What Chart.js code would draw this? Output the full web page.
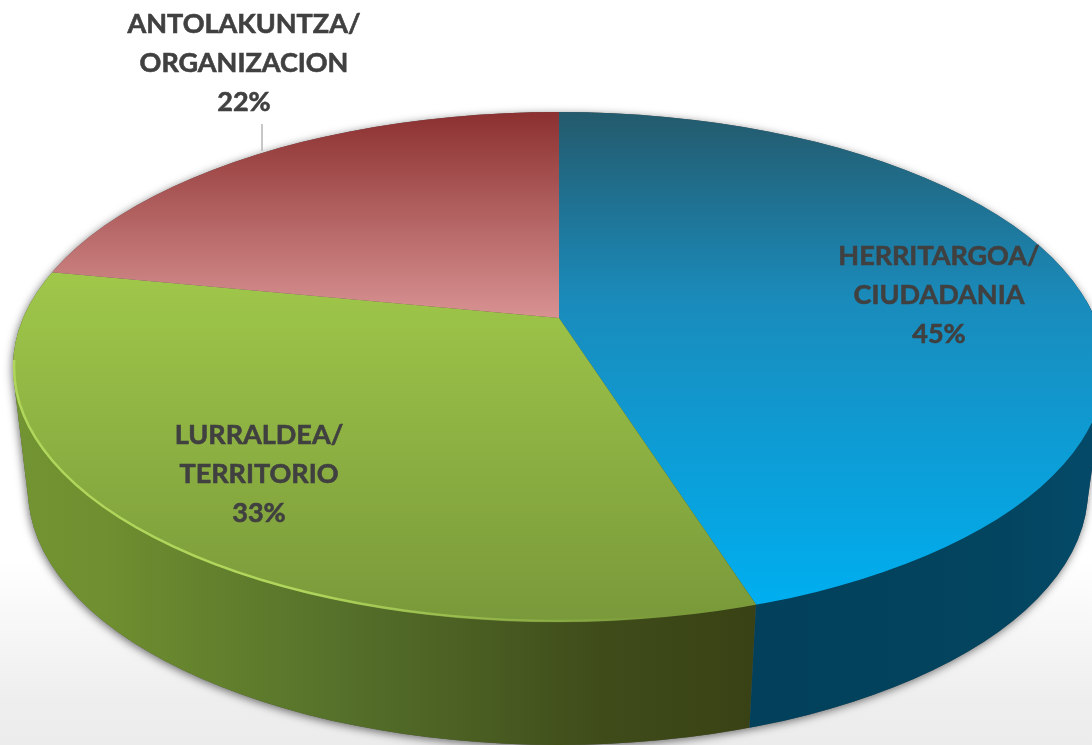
<!DOCTYPE html>
<html>
<head>
<meta charset="utf-8">
<title>Pie</title>
<script src="https://cdn.jsdelivr.net/npm/chart.js@4/dist/chart.umd.js"></script>
<style>
    html, body { margin: 0; padding: 0; width: 1092px; height: 745px; overflow: hidden; }
    body { background: linear-gradient(to bottom, #ffffff 0, #ffffff 560px, #eeeeee 700px, #ececec 745px); }
    canvas { display: block; }
</style>
</head>
<body>
<canvas id="grafico" width="1092" height="745"></canvas>
<script>
// ==================== DATA ====================
const categorias = [['HERRITARGOA/', 'CIUDADANIA'], ['LURRALDEA/', 'TERRITORIO'], ['ANTOLAKUNTZA/', 'ORGANIZACION']];
const valores = [45, 33, 22];

// ==================== LOOK OF THE 3D DISC ====================
const apice = { x: 559, y: 318 };      // where the slices meet on screen
const tapa = { x: 559, y: 367, rx: 546, ry: 255 };   // top face
const fondo = { x: 558, y: 490, rx: 530, ry: 255 };  // bottom rim of the wall
const escalaX = 2, escalaY = 0.945;    // squashes the library's round pie
const etiquetas = [{ x: 939, y: 265 }, { x: 259, y: 444 }, { x: 244, y: 33 }];
const paradas = [
    [[112, '#245a6c'], [300, '#1a8bbb'], [600, '#00aeef']],
    [[270, '#a0c84a'], [622, '#79993a']],
    [[112, '#8c3030'], [320, '#d99393']]
];

function gradienteTapa(chart, i) {
    // the chart area is not known on the first resolve, the pie sits mid height anyway
    const cy = chart.height / 2;
    // gradient lives in chart space, so screen rows are converted back
    const aChart = y => cy + (y - apice.y) / escalaY;
    const lista = paradas[i];
    const y0 = lista[0][0], y1 = lista[lista.length - 1][0];
    const g = chart.ctx.createLinearGradient(0, aChart(y0), 0, aChart(y1));
    lista.forEach(p => g.addColorStop((p[0] - y0) / (y1 - y0), p[1]));
    return g;
}

function caminoPared(ctx) {
    ctx.beginPath();
    const pasos = 60;
    for (let i = 0; i <= pasos; i++) {
        const t = i / pasos;
        const cx = tapa.x + (fondo.x - tapa.x) * t;
        const cy = tapa.y + (fondo.y - tapa.y) * t;
        const rx = tapa.rx + (fondo.rx - tapa.rx) * t;
        ctx.moveTo(cx + rx, cy);
        ctx.ellipse(cx, cy, rx, tapa.ry, 0, 0, Math.PI * 2);
    }
}

// point where the first slice's end edge meets the rim
function puntoCorte(angulo) {
    const dx = Math.cos(angulo) * escalaX, dy = Math.sin(angulo) * escalaY;
    const ox = (apice.x - tapa.x) / tapa.rx, oy = (apice.y - tapa.y) / tapa.ry;
    const ux = dx / tapa.rx, uy = dy / tapa.ry;
    const A = ux * ux + uy * uy, B = 2 * (ox * ux + oy * uy), C = ox * ox + oy * oy - 1;
    const s = (-B + Math.sqrt(B * B - 4 * A * C)) / (2 * A);
    return { x: apice.x + dx * s, y: apice.y + dy * s };
}

function dibujarPared(ctx, corte) {
    const factor = fondo.rx / tapa.rx;
    const abajo = { x: fondo.x + (corte.x - tapa.x) * factor, y: corte.y + (fondo.y - tapa.y) };

    // soft shadow under the disc
    ctx.save();
    ctx.shadowColor = 'rgba(0,0,0,0.55)';
    ctx.shadowBlur = 9;
    ctx.shadowOffsetY = 2;
    ctx.shadowOffsetX = -1;
    ctx.fillStyle = '#555';
    caminoPared(ctx);
    ctx.fill('nonzero');
    ctx.restore();

    // green wall
    const verde = ctx.createLinearGradient(15, 0, abajo.x, 0);
    verde.addColorStop(0, '#739432');
    verde.addColorStop(0.12, '#6f8f30');
    verde.addColorStop(0.45, '#55702a');
    verde.addColorStop(0.8, '#3f4c1a');
    verde.addColorStop(1, '#394214');
    ctx.save();
    ctx.beginPath();
    ctx.moveTo(corte.x, corte.y - 5);
    ctx.lineTo(abajo.x, abajo.y);
    ctx.lineTo(abajo.x, 745);
    ctx.lineTo(0, 745);
    ctx.lineTo(0, 300);
    ctx.lineTo(corte.x, 300);
    ctx.closePath();
    ctx.clip();
    ctx.fillStyle = verde;
    caminoPared(ctx);
    ctx.fill('nonzero');
    ctx.restore();

    // blue wall
    const azul = ctx.createLinearGradient(abajo.x, 0, 1092, 0);
    azul.addColorStop(0, '#02405b');
    azul.addColorStop(0.7, '#03445f');
    azul.addColorStop(1, '#044a68');
    ctx.save();
    ctx.beginPath();
    ctx.moveTo(corte.x, corte.y - 5);
    ctx.lineTo(abajo.x, abajo.y);
    ctx.lineTo(abajo.x, 745);
    ctx.lineTo(1092, 745);
    ctx.lineTo(1092, 300);
    ctx.lineTo(corte.x, 300);
    ctx.closePath();
    ctx.clip();
    ctx.fillStyle = azul;
    caminoPared(ctx);
    ctx.fill('nonzero');
    ctx.restore();
}

const disco3d = {
    id: 'disco3d',
    beforeDatasetsDraw(chart) {
        const ctx = chart.ctx;
        const arco = chart.getDatasetMeta(0).data[0];
        const corte = puntoCorte(arco.endAngle);
        chart.$corte = corte;
        dibujarPared(ctx, corte);

        // the library's arcs get squashed and clipped to the top face
        ctx.save();
        ctx.beginPath();
        ctx.ellipse(tapa.x, tapa.y, tapa.rx, tapa.ry, 0, 0, Math.PI * 2);
        ctx.clip();
        ctx.translate(apice.x, apice.y);
        ctx.scale(escalaX, escalaY);
        ctx.translate(-arco.x, -arco.y);
    },
    afterDatasetsDraw(chart) {
        const ctx = chart.ctx;
        ctx.restore();
        const corte = chart.$corte;

        // light bevel on the green rim, fades out toward the front
        const brillo = ctx.createLinearGradient(300, 0, 660, 0);
        brillo.addColorStop(0, 'rgba(176,214,92,1)');
        brillo.addColorStop(1, 'rgba(176,214,92,0)');
        ctx.save();
        ctx.beginPath();
        ctx.rect(0, 360, corte.x, 385);
        ctx.clip();
        ctx.beginPath();
        ctx.ellipse(tapa.x, tapa.y, tapa.rx - 1, tapa.ry - 1, 0, 0, Math.PI * 2);
        ctx.strokeStyle = brillo;
        ctx.lineWidth = 2.5;
        ctx.stroke();
        ctx.restore();

        // leader line of the small slice
        ctx.beginPath();
        ctx.moveTo(262, 124);
        ctx.lineTo(262, 151);
        ctx.strokeStyle = '#b5b5b5';
        ctx.lineWidth = 1.5;
        ctx.stroke();

        // labels
        ctx.save();
        ctx.fillStyle = '#404040';
        ctx.strokeStyle = '#404040';
        ctx.lineWidth = 0.6;
        ctx.font = 'bold 27px Lato';
        ctx.textAlign = 'center';
        ctx.textBaseline = 'alphabetic';
        categorias.forEach((lineas, i) => {
            const p = etiquetas[i];
            const texto = lineas.concat(valores[i] + '%');
            texto.forEach((t, n) => {
                ctx.fillText(t, p.x, p.y + n * 39);
                ctx.strokeText(t, p.x, p.y + n * 39);
            });
        });
        ctx.restore();
    }
};

// ==================== CHART ====================
new Chart(document.getElementById('grafico'), {
    type: 'pie',
    data: {
        labels: categorias.map(c => c.join(' ')),
        datasets: [{
            data: valores,
            borderWidth: 0,
            backgroundColor: function(context) {
                return gradienteTapa(context.chart, context.dataIndex);
            }
        }]
    },
    options: {
        responsive: false,
        animation: false,
        layout: { padding: 0 },
        plugins: { legend: { display: false }, tooltip: { enabled: false } }
    },
    plugins: [disco3d]
});
</script>
</body>
</html>
